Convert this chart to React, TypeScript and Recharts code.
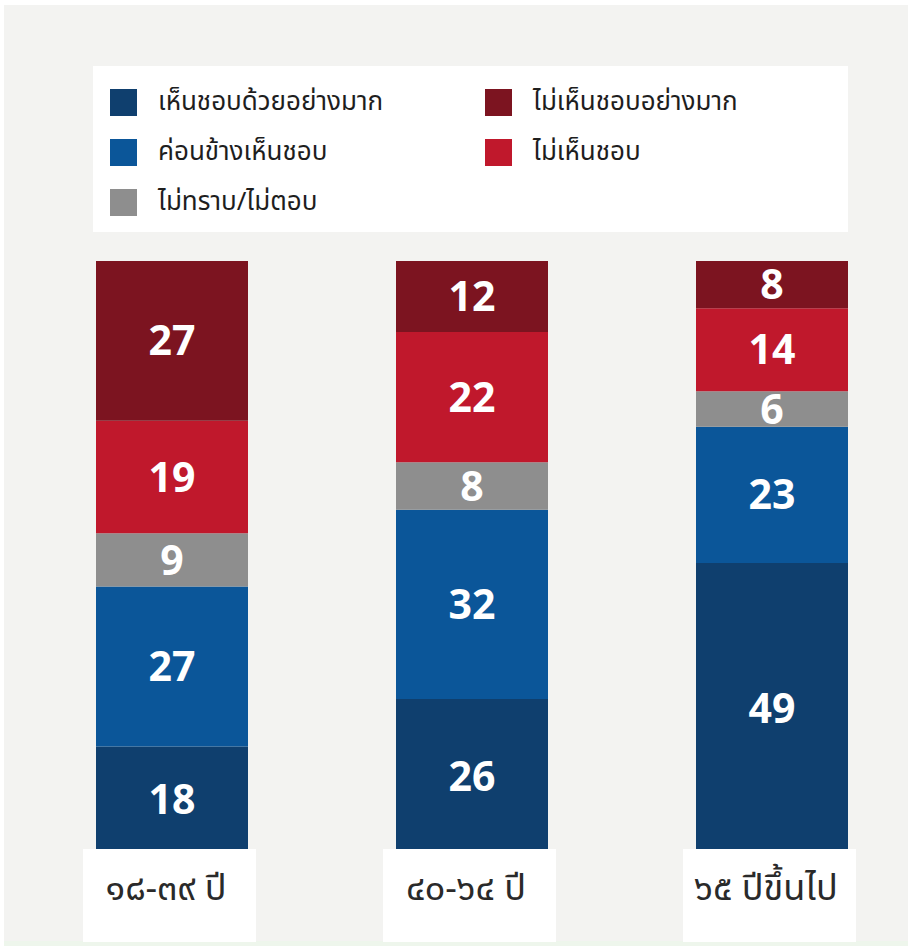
import React from "react";
import { BarChart, Bar, XAxis, YAxis, LabelList } from "recharts";

const AGE_GROUPS = ["๑๘-๓๙ ปี", "๔๐-๖๔ ปี", "๖๕ ปีขึ้นไป"];
const STRONGLY_AGREE = [18, 26, 49];
const SOMEWHAT_AGREE = [27, 32, 23];
const DONT_KNOW = [9, 8, 6];
const DISAGREE = [19, 22, 14];
const STRONGLY_DISAGREE = [27, 12, 8];

const SERIES = [
  { key: "strong", name: "เห็นชอบด้วยอย่างมาก", color: "#0f3f6e" },
  { key: "somewhat", name: "ค่อนข้างเห็นชอบ", color: "#0b5699" },
  { key: "unknown", name: "ไม่ทราบ/ไม่ตอบ", color: "#8e8e8e" },
  { key: "disagree", name: "ไม่เห็นชอบ", color: "#c0182c" },
  { key: "strongDis", name: "ไม่เห็นชอบอย่างมาก", color: "#7c1420" },
];

const data = AGE_GROUPS.map((g, i) => ({
  group: g,
  strong: STRONGLY_AGREE[i],
  somewhat: SOMEWHAT_AGREE[i],
  unknown: DONT_KNOW[i],
  disagree: DISAGREE[i],
  strongDis: STRONGLY_DISAGREE[i],
}));

const FONT = "'Noto Sans Thai', 'Open Sans', 'Noto Sans', 'DejaVu Sans', sans-serif";

// legend laid out in two columns like the picture
const LEGEND_ORDER = [
  { s: SERIES[0], x: 17, y: 22 },
  { s: SERIES[4], x: 392, y: 22 },
  { s: SERIES[1], x: 17, y: 72 },
  { s: SERIES[3], x: 392, y: 72 },
  { s: SERIES[2], x: 17, y: 122 },
];

function LegendBox() {
  return (
    <div style={{ position: "absolute", left: 93, top: 66, width: 755, height: 166, background: "#fff" }}>
      {LEGEND_ORDER.map(({ s, x, y }) => (
        <div key={s.key} style={{ position: "absolute", left: x, top: y, height: 28, display: "flex", alignItems: "center" }}>
          <div style={{ width: 27, height: 27, background: s.color, marginRight: 21, flex: "none" }} />
          <span style={{ fontFamily: FONT, fontSize: 26, color: "#1e1e1e", whiteSpace: "nowrap", lineHeight: "28px" }}>{s.name}</span>
        </div>
      ))}
    </div>
  );
}

function AgeTick(props: any) {
  const { x, y, payload } = props;
  return (
    <g>
      <rect x={x - 89} y={y - 12} width={173} height={93} fill="#fff" />
      <text x={x - 6} y={y + 39} textAnchor="middle" fontFamily={FONT} fontSize={36} fill="#2a2a2a">
        {payload.value}
      </text>
    </g>
  );
}

export default function App() {
  return (
    <div style={{ position: "absolute", left: 0, top: 0, width: 908, height: 946, background: "#fff", overflow: "hidden" }}>
      <div style={{ position: "absolute", left: 4, top: 5, width: 904, height: 936, background: "#f3f3f1" }} />
      <div style={{ position: "absolute", left: 4, top: 941, width: 904, height: 5, background: "#eef6ec" }} />
      <LegendBox />
      <div style={{ position: "absolute", left: 0, top: 0 }}>
        <BarChart
          width={944}
          height={946}
          data={data}
          margin={{ top: 261, right: 22, bottom: 0, left: 22 }}
          barCategoryGap={74}
        >
          <XAxis dataKey="group" axisLine={false} tickLine={false} tick={<AgeTick />} interval={0} height={93} />
          <YAxis hide domain={[0, 100]} />
          {SERIES.map((s) => (
            <Bar key={s.key} dataKey={s.key} name={s.name} stackId="a" fill={s.color} isAnimationActive={false}>
              <LabelList
                dataKey={s.key}
                position="center"
                fill="#fff"
                fontFamily="'Open Sans', sans-serif"
                fontWeight={700}
                fontSize={41}
              />
            </Bar>
          ))}
        </BarChart>
      </div>
    </div>
  );
}
